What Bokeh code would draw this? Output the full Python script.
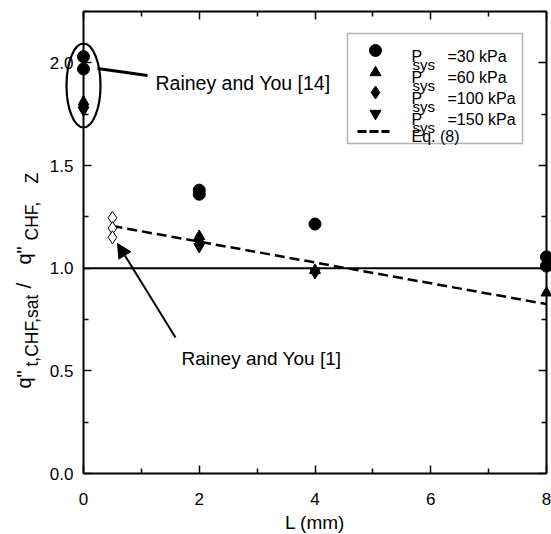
import math
from bokeh.plotting import figure
from bokeh.models import (LinearAxis, FixedTicker, Range1d, BoxAnnotation,
                          Arrow, NormalHead)
from bokeh.core.properties import value
from bokeh.embed import file_html
from bokeh.resources import INLINE

# ---------------- data ----------------
x_ticks = [0, 2, 4, 6, 8]
x_minor = [1, 3, 5, 7]
y_ticks = [0.0, 0.5, 1.0, 1.5, 2.0]
y_minor = [0.25, 0.75, 1.25, 1.75, 2.25]
y_tick_labels = ["0.0", "0.5", "1.0", "1.5", "2.0"]

L_30 = [0, 0, 2, 2, 4, 8, 8]
q_30 = [2.03, 1.97, 1.38, 1.36, 1.215, 1.055, 1.01]
L_60 = [0, 2, 4, 8]
q_60 = [1.81, 1.155, 0.99, 0.88]
L_100 = [0, 2, 4]
q_100 = [1.79, 1.13, 0.98]
L_150 = [0, 2, 4]
q_150 = [1.77, 1.105, 0.985]
L_ref1 = [0.5, 0.5, 0.5]
q_ref1 = [1.245, 1.195, 1.15]
L_eq = [0.5, 8]
q_eq = [1.205, 0.825]
L_unity = [0, 8]
q_unity = [1.0, 1.0]

legend_labels = ["=30 kPa", "=60 kPa", "=100 kPa", "=150 kPa"]

FONT = "Liberation Sans"
W, H = 551, 534
# pixel positions of the data box on the canvas
FL, FR, FT, FB = 83, 546, 11, 473
XMIN, XMAX, YMIN, YMAX = 0.0, 8.0, 0.0, 2.25
XS = (FR - FL) / (XMAX - XMIN)
YS = (FB - FT) / (YMAX - YMIN)
X_START = XMIN - FL / XS
X_END = XMIN + (W - FL) / XS
Y_START = YMIN - (H - FB) / YS
Y_END = YMAX + FT / YS

def dx(px):
    return X_START + px / XS

def dy(py):
    return Y_END - py / YS

p = figure(width=W, height=H, output_backend="svg", toolbar_location=None,
           x_range=Range1d(X_START, X_END), y_range=Range1d(Y_START, Y_END),
           min_border=0, x_axis_location=None, y_axis_location=None)
p.outline_line_color = None
p.xgrid.visible = False
p.ygrid.visible = False
p.background_fill_color = "white"
p.border_fill_color = "white"

def style_axis(ax, show_labels):
    ax.axis_line_width = 2
    ax.axis_line_color = "black"
    ax.major_tick_in = 8
    ax.major_tick_out = 0
    ax.minor_tick_in = 5
    ax.minor_tick_out = 0
    ax.major_tick_line_width = 1.5
    ax.minor_tick_line_width = 1.5
    ax.major_tick_line_color = "black"
    ax.minor_tick_line_color = "black"
    if show_labels:
        ax.major_label_text_font = FONT
        ax.major_label_text_font_size = "17px"
        ax.major_label_text_color = "black"
    else:
        ax.major_label_text_font_size = "0px"
        ax.major_label_text_color = None
        ax.major_label_standoff = 0

xb = LinearAxis(ticker=FixedTicker(ticks=x_ticks, minor_ticks=x_minor),
                axis_label="L (mm)", fixed_location=YMIN, bounds=(XMIN, XMAX))
style_axis(xb, True)
xb.major_label_standoff = 19
xb.axis_label_text_font = FONT
xb.axis_label_text_font_size = "19px"
xb.axis_label_text_font_style = "normal"
xb.axis_label_text_color = "black"
xb.axis_label_standoff = 4
p.add_layout(xb, "below")

yl = LinearAxis(ticker=FixedTicker(ticks=y_ticks, minor_ticks=y_minor),
                major_label_overrides={t: s for t, s in zip(y_ticks, y_tick_labels)},
                fixed_location=XMIN, bounds=(YMIN, YMAX))
style_axis(yl, True)
yl.major_label_standoff = 10
p.add_layout(yl, "left")

xt = LinearAxis(ticker=FixedTicker(ticks=x_ticks, minor_ticks=x_minor),
                fixed_location=YMAX, bounds=(XMIN, XMAX))
style_axis(xt, False)
p.add_layout(xt, "above")
yr = LinearAxis(ticker=FixedTicker(ticks=y_ticks, minor_ticks=y_minor),
                fixed_location=XMAX, bounds=(YMIN, YMAX))
style_axis(yr, False)
p.add_layout(yr, "right")

# reference line and correlation
p.line(L_unity, q_unity, line_color="black", line_width=2)
p.line(L_eq, q_eq, line_color="black", line_width=2.5, line_dash="10 5")

# data
p.scatter(L_ref1, q_ref1, marker="diamond", size=13, fill_color="white",
          line_color="black", line_width=1)
p.scatter(L_150, q_150, marker="inverted_triangle", size=11, color="black")
p.scatter(L_100, q_100, marker="diamond", size=13, color="black")
p.scatter(L_60, q_60, marker="triangle", size=11, color="black")
p.scatter(L_30, q_30, marker="circle", size=12, color="black")

# ellipse around Rainey and You [14]
p.ellipse(x=[0.0], y=[dy(85)], width=[dx(100) - dx(66)], height=[dy(43) - dy(127)],
          fill_color=None, line_color="black", line_width=2.2)
p.line([dx(97), dx(147)], [dy(68), dy(75)], line_color="black", line_width=3)

def txt(px, py, s, size, angle=0.0, align="left"):
    p.text(x=[dx(px)], y=[dy(py)], text=[s], angle=angle,
           text_font=value(FONT), text_font_size=value(size),
           text_baseline="alphabetic", text_align=align, text_color="black")

txt(155, 82, "Rainey and You [14]", "19.5px")

# arrow to Rainey and You [1]
p.add_layout(Arrow(end=NormalHead(size=14, fill_color="black", line_color="black"),
                   x_start=dx(175), y_start=dy(337), x_end=dx(117), y_end=dy(243),
                   line_width=2, line_color="black"))
txt(181, 358, "Rainey and You [1]", "19px")

# legend
p.add_layout(BoxAnnotation(left=dx(347), right=dx(522), top=dy(33), bottom=dy(143),
                           fill_color="white", fill_alpha=1.0, line_color="black",
                           line_width=1.5, level="underlay"))
rows = [56, 77, 98, 119]
markers = ["circle", "triangle", "diamond", "inverted_triangle"]
msizes = [12, 11, 13, 11]
mcent = [50, 72, 92, 113]
for r, m, ms, mc, lab in zip(rows, markers, msizes, mcent, legend_labels):
    p.scatter([dx(375)], [dy(mc)], marker=m, size=ms, color="black")
    txt(411, r, "P", "16px")
    txt(412, r + 8, "sys", "15px")
    txt(447, r, lab, "16px")
p.line([dx(357), dx(389)], [dy(131), dy(131)], line_color="black", line_width=3,
       line_dash="9 3")
txt(411, 136, "Eq. (8)", "16px")

# y-axis label composed of pieces (rotated, reading upward)
ang = math.pi / 2
txt(23, 388, 'q"', "20px", ang)
txt(31, 366, "t,CHF,sat", "17.5px", ang)
txt(23, 288, "/", "21px", ang)
txt(23, 264, 'q"', "20px", ang)
txt(31, 240, "CHF,", "17.5px", ang)
txt(31, 183, "Z", "17.5px", ang)

open("out.html", "w").write(file_html(p, INLINE))
